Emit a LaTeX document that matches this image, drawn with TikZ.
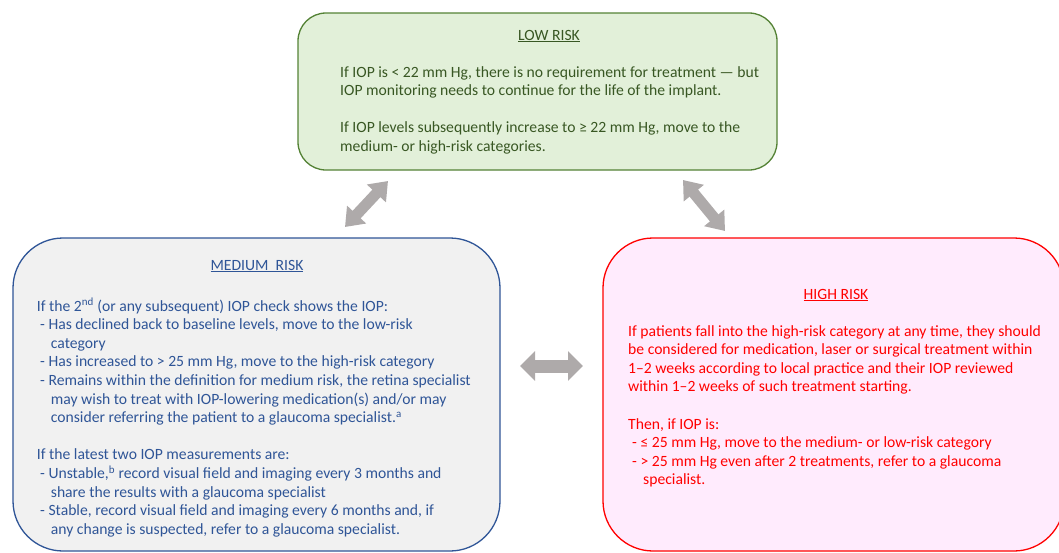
\documentclass[tikz,border=0pt]{standalone}
\usepackage{fontspec}
\setmainfont{Carlito}
\usetikzlibrary{arrows.meta}
\definecolor{lowfill}{HTML}{E2F0D9}
\definecolor{lowline}{HTML}{548235}
\definecolor{lowtext}{HTML}{385723}
\definecolor{medfill}{HTML}{F1F1F1}
\definecolor{medline}{HTML}{2F5597}
\definecolor{medtext}{HTML}{2F5597}
\definecolor{highfill}{HTML}{FFEBFD}
\definecolor{highline}{HTML}{FF0000}
\definecolor{arrowgrey}{HTML}{AEAAAA}
\begin{document}
\begin{tikzpicture}[x=1pt,y=-1pt,
  box/.style={draw, line width=1.3pt, inner sep=0pt, outer sep=0pt},
  body/.style={anchor=north west, inner sep=0pt, align=left, font=\fontsize{15.65}{18.6}\selectfont},
  heading/.style={anchor=base, inner sep=0pt, font=\fontsize{15.65}{18.6}\selectfont},
  dblarrow/.style={draw=arrowgrey, line width=#1},
]
\path[use as bounding box] (0,0) rectangle (1059,552);
\clip (0,0) rectangle (1059,552);

% boxes
\node[box, draw=lowline, fill=lowfill, rounded corners=28pt,
      minimum width=479pt, minimum height=157pt] (low) at (537.5,91.5) {};
\node[box, draw=medline, fill=medfill, rounded corners=50pt,
      minimum width=487pt, minimum height=313pt] (med) at (256.5,394.5) {};
\node[box, draw=highline, fill=highfill, rounded corners=50pt,
      minimum width=461pt, minimum height=313pt] (high) at (833.5,394.5) {};

% low risk
\node[heading, text=lowtext] (lowtitle) at (549,40) {\underline{LOW RISK}};
\node[body, text=lowtext] (lowbody) at (340,66) {%
If IOP is < 22 mm Hg, there is no requirement for treatment — but\\
IOP monitoring needs to continue for the life of the implant.\\[18.6pt]
If IOP levels subsequently increase to ≥ 22 mm Hg, move to the\\
medium- or high-risk categories.};

% medium risk
\node[heading, text=medtext] (medtitle) at (257,270) {\underline{MEDIUM\ \ RISK}};
\node[body, text=medtext] (medbody) at (36.7,298) {%
If the 2\textsuperscript{nd} (or any subsequent) IOP check shows the IOP:\\
\hspace*{3.3pt}- Has declined back to baseline levels, move to the low-risk\\
\hspace*{14pt}category\\
\hspace*{3.3pt}- Has increased to > 25 mm Hg, move to the high-risk category\\
\hspace*{3.3pt}- Remains within the definition for medium risk, the retina specialist\\
\hspace*{14pt}may wish to treat with IOP-lowering medication(s) and/or may\\
\hspace*{14pt}consider referring the patient to a glaucoma specialist.\textsuperscript{a}\\[18.6pt]
If the latest two IOP measurements are:\\
\hspace*{3.3pt}- Unstable,\textsuperscript{b} record visual field and imaging every 3 months and\\
\hspace*{14pt}share the results with a glaucoma specialist\\
\hspace*{3.3pt}- Stable, record visual field and imaging every 6 months and, if\\
\hspace*{14pt}any change is suspected, refer to a glaucoma specialist.};

% high risk
\node[heading, text=highline] (hightitle) at (836,299) {\underline{HIGH RISK}};
\node[body, text=highline] (highbody) at (628,325) {%
If patients fall into the high-risk category at any time, they should\\
be considered for medication, laser or surgical treatment within\\
1–2 weeks according to local practice and their IOP reviewed\\
within 1–2 weeks of such treatment starting.\\[18.6pt]
Then, if IOP is:\\
\hspace*{4pt}- ≤ 25 mm Hg, move to the medium- or low-risk category\\
\hspace*{4pt}- > 25 mm Hg even after 2 treatments, refer to a glaucoma\\
\hspace*{15pt}specialist.};

% connectors
\coordinate (a1s) at (345,227);
\coordinate (a1e) at (388,181);
\coordinate (a2s) at (683,180);
\coordinate (a2e) at (725,231);
\coordinate (a3s) at (520,366);
\coordinate (a3e) at (583,366);
\draw[dblarrow=11pt, {Triangle[width=25pt,length=17pt]}-{Triangle[width=25pt,length=17pt]}] (a1s) -- (a1e);
\draw[dblarrow=11pt, {Triangle[width=25pt,length=17pt]}-{Triangle[width=25pt,length=17pt]}] (a2s) -- (a2e);
\draw[dblarrow=13pt, {Triangle[width=29pt,length=15pt]}-{Triangle[width=29pt,length=15pt]}] (a3s) -- (a3e);
\end{tikzpicture}
\end{document}
